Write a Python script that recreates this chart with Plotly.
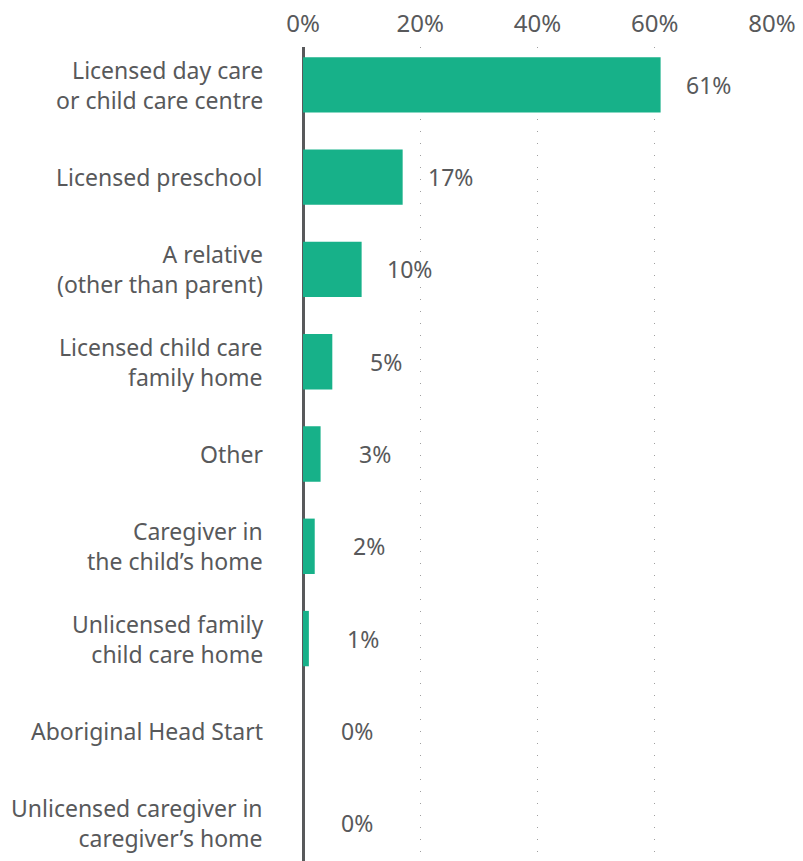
import plotly.graph_objects as go

# Share of children by main type of child care arrangement
categories = [
    "Licensed day care<br>or child care centre",
    "Licensed preschool",
    "A relative<br>(other than parent)",
    "Licensed child care<br>family home",
    "Other",
    "Caregiver in<br>the child\u2019s home",
    "Unlicensed family<br>child care home",
    "Aboriginal Head Start",
    "Unlicensed caregiver in<br>caregiver\u2019s home",
]
shares = [61, 17, 10, 5, 3, 2, 1, 0, 0]
tick_values = [0, 20, 40, 60, 80]
tick_labels = ["0%", "20%", "40%", "60%", "80%"]

TEXT = "#58595b"
BAR = "#17b189"
FONT = "Noto Sans"

fig = go.Figure(
    go.Bar(
        x=shares,
        y=categories,
        orientation="h",
        marker=dict(color=BAR, line=dict(width=0)),
        width=0.6,
        hoverinfo="skip",
    )
)

# Category labels, right-aligned left of the zero line
for cat in categories:
    fig.add_annotation(
        x=0, y=cat, xref="paper", yref="y",
        text=cat, showarrow=False, align="right",
        xanchor="right", xshift=-38,
        font=dict(family=FONT, size=23, color=TEXT),
    )

# Value labels next to each bar
for cat, v in zip(categories, shares):
    fig.add_annotation(
        x=v, y=cat, xref="x", yref="y",
        text=f"{v}%", showarrow=False,
        xanchor="right", xshift=72,
        font=dict(family=FONT, size=23, color=TEXT),
    )

fig.update_layout(
    width=803, height=861,
    margin=dict(l=303, r=31, t=47, b=0),
    plot_bgcolor="white", paper_bgcolor="white",
    showlegend=False,
    font=dict(family=FONT, size=20, color=TEXT),
    xaxis=dict(
        side="top",
        range=[0, 80],
        tickvals=tick_values,
        ticktext=tick_labels,
        showgrid=True,
        gridcolor="#a0a0a0",
        griddash="1px,11px",
        gridwidth=1.2,
        zeroline=True,
        zerolinecolor=TEXT,
        zerolinewidth=3,
        showline=False,
        ticks="",
        ticklabelstandoff=9,
        tickfont=dict(family=FONT, size=24, color=TEXT),
        fixedrange=True,
    ),
    yaxis=dict(
        categoryorder="array",
        categoryarray=categories,
        range=[8.41, -0.41],
        showgrid=False,
        zeroline=False,
        showline=False,
        showticklabels=False,
        ticks="",
        fixedrange=True,
    ),
)

fig.write_html("out.html")
